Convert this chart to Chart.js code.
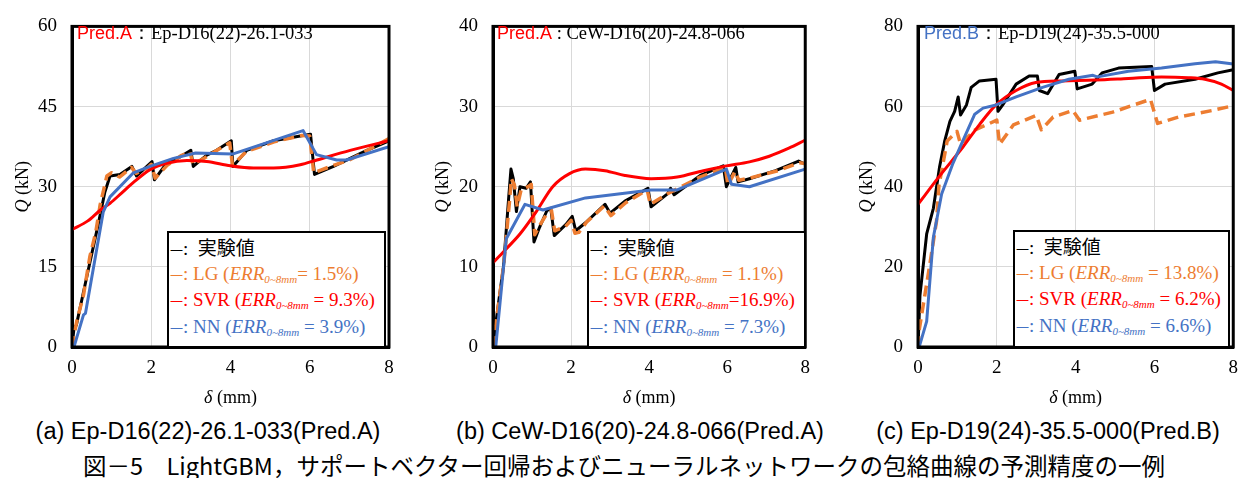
<!DOCTYPE html>
<html>
<head>
<meta charset="utf-8">
<script src="https://cdn.jsdelivr.net/npm/chart.js@4/dist/chart.umd.min.js"></script>
<style>
  html, body { margin: 0; padding: 0; background: #fff; }
  body { width: 1248px; height: 478px; position: relative; overflow: hidden; }
  canvas { position: absolute; top: 0; }
  .tag { position: absolute; font: 18.5px 'Liberation Serif', serif; color: #000; white-space: nowrap; line-height: 20px; }
  .tag .pred { font-family: 'Liberation Sans', sans-serif; font-size: 18px; }
  .legend { position: absolute; box-sizing: border-box; border: 2px solid #000; background: #fff;
    font: 19px 'Liberation Serif', serif; padding: 1px 0 0 1px; white-space: nowrap; }
  .legend .row { height: 26.7px; line-height: 26.7px; }
  .legend .dash { font: 13px 'Noto Sans CJK JP', sans-serif; }
  .legend .jp { font-family: 'Noto Sans CJK JP', sans-serif; font-size: 19px; }
  .legend sub { font-size: 11px; font-style: italic; vertical-align: -3px; line-height: 0; }
  .k { color: #000; } .o { color: #ED7D31; } .r { color: #FF0000; } .b { color: #4472C4; }
  .cap { position: absolute; top: 418px; font: 23.5px 'Liberation Sans', Arial, sans-serif; white-space: nowrap; transform: translateX(-50%); }
  .title { position: absolute; top: 452px; left: 624px; transform: translateX(-50%);
    font: 23.5px 'Noto Sans CJK JP', sans-serif; white-space: nowrap; line-height: 26px; }
</style>
</head>
<body>
<canvas id="chartA" width="410" height="410" style="left:0px"></canvas>
<canvas id="chartB" width="400" height="410" style="left:420px"></canvas>
<canvas id="chartC" width="418" height="410" style="left:830px"></canvas>

<div class="tag" style="left:77px;top:23px"><span class="pred r">Pred.A</span>：Ep-D16(22)-26.1-033</div>
<div class="tag" style="left:497px;top:23px"><span class="pred r">Pred.A</span> : CeW-D16(20)-24.8-066</div>
<div class="tag" style="left:924px;top:23px"><span class="pred b">Pred.B</span>：Ep-D19(24)-35.5-000</div>

<div class="legend" style="left:167px;top:231px;width:219px;height:117px">
  <div class="row k"><span class="dash">一</span>:&nbsp; <span class="jp">実験値</span></div>
  <div class="row o"><span class="dash">一</span>: LG (<i>ERR</i><sub>0~8mm</sub>= 1.5%)</div>
  <div class="row r"><span class="dash">一</span>: SVR (<i>ERR</i><sub>0~8mm</sub> = 9.3%)</div>
  <div class="row b"><span class="dash">一</span>: NN (<i>ERR</i><sub>0~8mm</sub> = 3.9%)</div>
</div>
<div class="legend" style="left:587px;top:231px;width:219px;height:117px">
  <div class="row k"><span class="dash">一</span>:&nbsp; <span class="jp">実験値</span></div>
  <div class="row o"><span class="dash">一</span>: LG (<i>ERR</i><sub>0~8mm</sub> = 1.1%)</div>
  <div class="row r"><span class="dash">一</span>: SVR (<i>ERR</i><sub>0~8mm</sub>=16.9%)</div>
  <div class="row b"><span class="dash">一</span>: NN (<i>ERR</i><sub>0~8mm</sub> = 7.3%)</div>
</div>
<div class="legend" style="left:1013px;top:230px;width:217px;height:118px">
  <div class="row k"><span class="dash">一</span>:&nbsp; <span class="jp">実験値</span></div>
  <div class="row o"><span class="dash">一</span>: LG (<i>ERR</i><sub>0~8mm</sub> = 13.8%)</div>
  <div class="row r"><span class="dash">一</span>: SVR (<i>ERR</i><sub>0~8mm</sub> = 6.2%)</div>
  <div class="row b"><span class="dash">一</span>: NN (<i>ERR</i><sub>0~8mm</sub> = 6.6%)</div>
</div>

<div class="cap" style="left:208px">(a) Ep-D16(22)-26.1-033(Pred.A)</div>
<div class="cap" style="left:640px">(b) CeW-D16(20)-24.8-066(Pred.A)</div>
<div class="cap" style="left:1048px">(c) Ep-D19(24)-35.5-000(Pred.B)</div>
<div class="title">図－5　LightGBM，サポートベクター回帰およびニューラルネットワークの包絡曲線の予測精度の一例</div>

<script>
// (a) Ep-D16(22)-26.1-033
const aExpX = [0, 0.05, 0.11, 0.41, 0.66, 0.83, 0.96, 1.21, 1.51, 1.63, 1.89, 2.02, 2.08, 2.39, 2.73, 3.0, 3.06, 3.4, 3.65, 4.02, 4.06, 4.41, 5.09, 5.76, 6.02, 6.12, 6.6, 7.02, 7.44, 8.0];
const aExpQ = [0, 3.5, 4.1, 14.4, 22.9, 29.0, 32.0, 32.3, 33.8, 32.0, 33.8, 34.7, 31.3, 34.4, 35.6, 36.8, 33.8, 35.9, 36.8, 38.6, 33.8, 36.8, 38.6, 39.5, 39.8, 32.3, 33.8, 35.3, 36.8, 38.6];
const aLgX = [0, 0.06, 0.12, 0.29, 0.45, 0.6, 0.71, 0.88, 1.0, 1.2, 1.5, 1.62, 1.9, 2.0, 2.1, 2.4, 2.75, 2.98, 3.05, 3.4, 3.7, 3.98, 4.05, 4.4, 5.1, 5.8, 6.0, 6.1, 6.6, 7.0, 7.5, 8.0];
const aLgQ = [0, 2.5, 4.8, 9.7, 16.9, 21.5, 26.6, 32.0, 32.6, 31.8, 33.6, 32.5, 33.5, 34.2, 31.6, 34.0, 35.8, 36.5, 34.2, 35.6, 37.0, 38.2, 34.0, 36.6, 38.4, 39.6, 39.5, 32.6, 34.0, 35.0, 37.0, 39.0];
const aSvrX = [0, 0.4, 0.71, 0.96, 1.25, 1.55, 1.97, 2.39, 2.9, 3.4, 4.0, 4.58, 5.09, 5.76, 6.18, 7.02, 8.0];
const aSvrQ = [22.0, 23.6, 25.6, 26.9, 28.8, 30.8, 33.2, 34.4, 34.9, 34.7, 33.9, 33.5, 33.5, 34.1, 35.0, 36.8, 38.6];
const aNnX = [0.05, 0.29, 0.34, 0.79, 0.96, 1.55, 1.97, 2.56, 3.12, 4.05, 4.98, 5.83, 6.17, 6.68, 6.93, 8.0];
const aNnQ = [0, 6.0, 6.3, 25.3, 28.1, 32.6, 33.8, 35.3, 36.3, 36.1, 38.4, 40.5, 36.0, 35.0, 35.0, 37.5];

// (b) CeW-D16(20)-24.8-066
const bExpX = [0, 0.1, 0.27, 0.4, 0.46, 0.52, 0.6, 0.69, 0.85, 0.96, 1.05, 1.19, 1.38, 1.48, 1.57, 1.87, 2.03, 2.12, 2.37, 2.87, 3.0, 3.38, 3.97, 4.05, 4.47, 4.55, 4.64, 5.31, 5.9, 5.98, 6.22, 6.28, 6.57, 7.24, 7.83, 8.0];
const bExpQ = [0, 4, 10.1, 18.5, 22.2, 21.0, 16.9, 20.0, 19.8, 20.6, 13.1, 14.9, 17.0, 17.3, 13.9, 15.3, 16.3, 14.5, 15.5, 17.8, 16.7, 18.2, 19.8, 17.5, 19.1, 19.8, 19.0, 21.4, 22.6, 20.0, 22.4, 20.6, 21.0, 22.0, 23.2, 22.8];
const bLgX = [0, 0.12, 0.28, 0.42, 0.47, 0.55, 0.62, 0.72, 0.9, 0.98, 1.07, 1.2, 1.4, 1.5, 1.58, 1.85, 2.0, 2.1, 2.2, 2.4, 2.85, 3.02, 3.4, 3.95, 4.03, 4.5, 5.3, 5.95, 6.02, 6.2, 6.3, 6.6, 7.3, 7.85, 8.0];
const bLgQ = [0, 4.5, 10.5, 18.0, 21.0, 20.2, 17.5, 19.6, 20.0, 20.3, 14.0, 15.2, 16.8, 17.0, 14.5, 15.0, 15.8, 14.2, 14.3, 15.6, 17.6, 16.4, 18.0, 19.6, 17.8, 19.2, 21.2, 22.4, 20.2, 21.9, 20.8, 21.1, 22.0, 23.0, 22.9];
const bSvrX = [0, 0.35, 0.69, 1.11, 1.53, 1.95, 2.37, 2.87, 3.38, 4.05, 4.72, 5.39, 5.98, 6.57, 7.08, 7.58, 8.0];
const bSvrQ = [10.5, 12.3, 14.1, 16.9, 20.0, 21.6, 22.2, 22.0, 21.4, 21.0, 21.2, 22.0, 22.6, 23.1, 23.8, 24.8, 25.8];
const bNnX = [0.07, 0.34, 0.82, 1.28, 2.37, 4.05, 4.72, 5.98, 6.11, 6.57, 8.0];
const bNnQ = [0, 13.5, 17.8, 17.1, 18.6, 19.6, 19.6, 22.2, 20.3, 20.0, 22.2];

// (c) Ep-D19(24)-35.5-000
const cExpX = [0, 0.05, 0.22, 0.39, 0.55, 0.68, 0.81, 0.93, 1.02, 1.08, 1.23, 1.35, 1.56, 1.98, 2.03, 2.15, 2.49, 2.82, 3.03, 3.08, 3.29, 3.58, 3.98, 4.04, 4.42, 4.67, 5.09, 5.93, 6.0, 6.27, 7.03, 7.61, 8.0];
const cExpQ = [0, 12.9, 28.2, 34.6, 45.1, 51.5, 56.3, 58.8, 62.4, 57.9, 60.4, 64.8, 66.4, 66.8, 58.8, 60.4, 65.6, 67.6, 67.6, 64.0, 63.2, 68.0, 68.8, 64.4, 65.6, 68.4, 69.6, 70.0, 64.0, 65.6, 66.8, 68.4, 69.2];
const cLgX = [0, 0.03, 0.28, 0.47, 0.53, 0.74, 0.99, 1.08, 1.45, 2.0, 2.07, 2.42, 3.0, 3.13, 3.43, 3.93, 4.1, 4.94, 5.9, 6.08, 6.62, 7.46, 8.0];
const cLgQ = [0, 4.2, 19.4, 31.4, 40.2, 51.4, 53.8, 50.6, 54.2, 56.6, 50.6, 55.4, 57.8, 54.2, 57.4, 59.0, 56.6, 58.6, 61.8, 55.8, 57.4, 59.0, 60.2];
const cSvrX = [0, 0.55, 1.14, 1.56, 1.98, 2.49, 2.99, 3.66, 4.5, 5.34, 6.18, 6.86, 7.28, 7.7, 8.0];
const cSvrQ = [35.6, 42.7, 49.9, 55.5, 60.4, 64.0, 66.0, 66.4, 66.6, 67.0, 67.4, 67.2, 66.8, 65.6, 64.0];
const cNnX = [0.03, 0.22, 0.39, 0.6, 0.89, 1.14, 1.44, 1.65, 1.98, 2.49, 3.16, 3.83, 4.44, 4.55, 5.34, 6.18, 7.03, 7.55, 8.0];
const cNnQ = [0, 6.4, 27.4, 38.2, 45.9, 51.5, 58.1, 59.6, 60.4, 62.4, 64.8, 66.8, 67.8, 67.4, 68.8, 69.6, 70.7, 71.2, 70.6];

const xTicks = [0, 2, 4, 6, 8];
const xTitle = ['δ', ' (mm)'];
const yTitle = ['Q', ' (kN)'];

const black = '#000000';
const orange = '#ED7D31';
const red = '#FF0000';
const blue = '#4472C4';
const serif = "'Liberation Serif', 'Times New Roman', serif";

const pts = (xs, ys) => xs.map((x, i) => ({ x, y: ys[i] }));

// plot frame on all four sides
const frame = {
    id: 'frame',
    afterDatasetsDraw(chart) {
        const { left, top, right, bottom } = chart.chartArea;
        const ctx = chart.ctx;
        ctx.save();
        ctx.strokeStyle = '#000';
        ctx.lineWidth = 3;
        ctx.strokeRect(left, top, right - left, bottom - top);
        ctx.restore();
    },
};

// axis titles with an italic symbol followed by upright units
function drawMixed(ctx, parts, cx, cy) {
    const fonts = ['italic 18px ' + serif, '18px ' + serif];
    let widths = parts.map((p, i) => { ctx.font = fonts[i]; return ctx.measureText(p).width; });
    let x = cx - (widths[0] + widths[1]) / 2;
    parts.forEach((p, i) => {
        ctx.font = fonts[i];
        ctx.fillText(p, x, cy);
        x += widths[i];
    });
}

const axisTitles = {
    id: 'axisTitles',
    afterDraw(chart, args, opts) {
        const ctx = chart.ctx;
        const { x, y } = chart.scales;
        ctx.save();
        ctx.fillStyle = '#000';
        ctx.textAlign = 'left';
        ctx.textBaseline = 'middle';
        drawMixed(ctx, xTitle, (x.left + x.right) / 2, x.bottom - 12);
        ctx.translate(y.left + opts.yPad, (y.top + y.bottom) / 2);
        ctx.rotate(-Math.PI / 2);
        drawMixed(ctx, yTitle, 0, 0);
        ctx.restore();
    },
};

function makeChart(id, series, opt) {
    new Chart(document.getElementById(id), {
        type: 'line',
        data: {
            datasets: [
                { label: '実験値', data: pts(series[0], series[1]), borderColor: black, borderWidth: 3, order: 4 },
                { label: 'LG', data: pts(series[2], series[3]), borderColor: orange, borderWidth: 3.5, borderDash: [11, 6], order: 3 },
                { label: 'SVR', data: pts(series[4], series[5]), borderColor: red, borderWidth: 3, cubicInterpolationMode: 'monotone', order: 2 },
                { label: 'NN', data: pts(series[6], series[7]), borderColor: blue, borderWidth: 3, order: 1 },
            ],
        },
        options: {
            responsive: false,
            animation: false,
            elements: { point: { radius: 0 }, line: { borderCapStyle: 'butt', borderJoinStyle: 'round' } },
            layout: { padding: { top: 15, right: opt.padRight, left: 0, bottom: 0 } },
            plugins: {
                legend: { display: false },
                tooltip: { enabled: false },
                axisTitles: { yPad: opt.yTitleX },
            },
            scales: {
                x: {
                    type: 'linear',
                    min: 0,
                    max: 8,
                    afterBuildTicks: s => { s.ticks = xTicks.map(v => ({ value: v })); },
                    afterFit: s => { s.height = 63; },
                    grid: { color: '#d9d9d9', lineWidth: 1, drawTicks: false },
                    border: { color: '#000', width: 3 },
                    ticks: { color: '#000', padding: 10, font: { family: serif, size: 19 } },
                },
                y: {
                    min: 0,
                    max: opt.yMax,
                    afterBuildTicks: s => { s.ticks = opt.yTicks.map(v => ({ value: v })); },
                    afterFit: s => { s.width = opt.axisW; },
                    grid: { color: '#d9d9d9', lineWidth: 1, drawTicks: false },
                    border: { color: '#000', width: 3 },
                    ticks: { color: '#000', padding: 15, font: { family: serif, size: 19 } },
                },
            },
        },
        plugins: [frame, axisTitles],
    });
}

makeChart('chartA', [aExpX, aExpQ, aLgX, aLgQ, aSvrX, aSvrQ, aNnX, aNnQ],
    { padRight: 21, axisW: 72, yMax: 60, yTicks: [0, 15, 30, 45, 60], yTitleX: 23 });
makeChart('chartB', [bExpX, bExpQ, bLgX, bLgQ, bSvrX, bSvrQ, bNnX, bNnQ],
    { padRight: 10, axisW: 73, yMax: 40, yTicks: [0, 10, 20, 30, 40], yTitleX: 23 });
makeChart('chartC', [cExpX, cExpQ, cLgX, cLgQ, cSvrX, cSvrQ, cNnX, cNnQ],
    { padRight: 13, axisW: 88, yMax: 80, yTicks: [0, 20, 40, 60, 80], yTitleX: 37 });
</script>
</body>
</html>
